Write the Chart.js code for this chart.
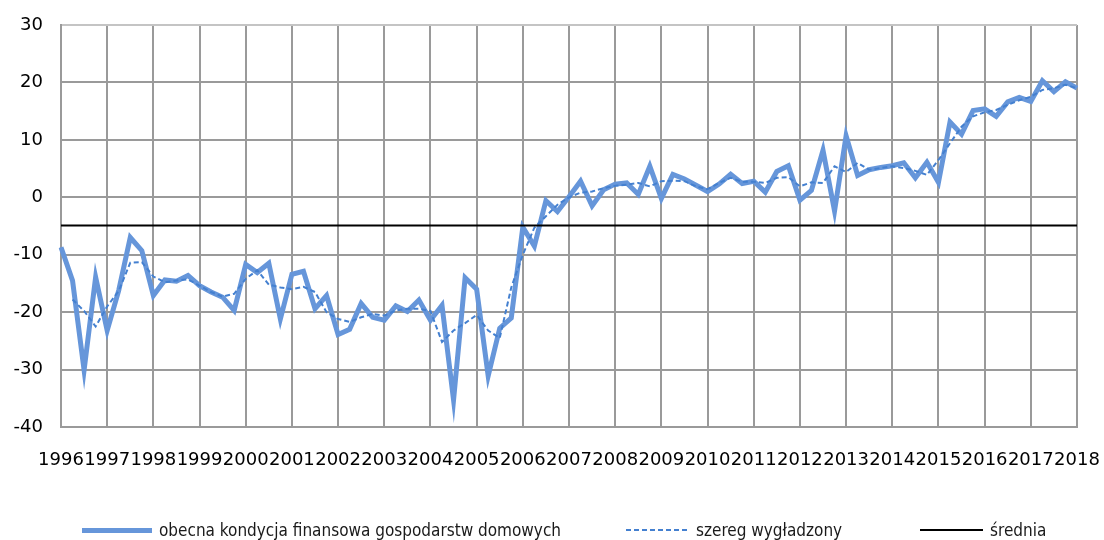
<!DOCTYPE html>
<html lang="pl">
<head>
<meta charset="utf-8">
<title>Obecna kondycja finansowa gospodarstw domowych</title>
<script src="https://cdn.jsdelivr.net/npm/chart.js@4.4.1/dist/chart.umd.min.js"></script>
<style>
    html, body { margin: 0; padding: 0; background: #fff; }
    #wrap { position: relative; width: 1104px; height: 540px; overflow: hidden; }
    #chart { position: absolute; left: 0; top: 0; }
    #legend {
        position: absolute; left: 0; top: 519px; width: 1104px; height: 22px;
        font-family: "DejaVu Sans Condensed", "DejaVu Sans", sans-serif;
        font-size: 17px; color: #1a1a1a;
    }
    .lg-item { position: absolute; top: 0; height: 22px; display: flex; align-items: center; white-space: nowrap; }
    .lg-line { display: inline-block; margin-right: 7px; }
</style>
</head>
<body>
<div id="wrap">
    <canvas id="chart" width="1104" height="540"></canvas>
    <div id="legend"></div>
</div>
<script>
// lata i kwartały (1996 I - 2018 I)
const years = [1996, 1997, 1998, 1999, 2000, 2001, 2002, 2003, 2004, 2005, 2006,
               2007, 2008, 2009, 2010, 2011, 2012, 2013, 2014, 2015, 2016, 2017, 2018];
const quarters = ['I', 'II', 'III', 'IV'];

// obecna kondycja finansowa gospodarstw domowych
const condition = [
    -8.7, -14.5, -30.1, -13.9, -23.2, -16.2, -7.0, -9.3,
    -17.1, -14.4, -14.6, -13.6, -15.4, -16.5, -17.4, -19.7,
    -11.7, -13.1, -11.5, -21.2, -13.4, -12.9, -19.4, -17.1,
    -23.9, -23.0, -18.5, -20.9, -21.4, -18.9, -19.9, -17.9,
    -21.4, -18.8, -35.3, -14.0, -16.0, -31.1, -22.8, -21.0,
    -5.2, -8.5, -0.6, -2.5, 0.1, 2.8, -1.5, 1.3,
    2.3, 2.5, 0.5, 5.4, -0.2, 4.0, 3.2, 2.1,
    1.0, 2.3, 4.0, 2.4, 2.8, 0.9, 4.5, 5.5,
    -0.5, 1.2, 8.2, -2.4, 10.7, 3.8, 4.8, 5.2,
    5.5, 6.0, 3.4, 6.1, 2.6, 13.1, 11.0, 15.1,
    15.4, 14.1, 16.6, 17.4, 16.7, 20.3, 18.4, 20.1,
    19.0
];

// szereg wygładzony
const smoothed = [
    null, -17.8, -19.8, -22.5, -19.0, -16.3, -11.4, -11.3,
    -13.8, -14.8, -14.5, -14.3, -15.4, -16.5, -17.3, -16.8,
    -14.2, -12.7, -15.2, -15.7, -16.0, -15.6, -16.5, -20.0,
    -21.2, -21.7, -20.9, -20.3, -20.6, -19.7, -19.4, -19.4,
    -19.8, -25.2, -23.2, -21.9, -20.5, -23.2, -24.5, -15.7,
    -10.0, -5.3, -3.3, -1.3, 0.0, 0.8, 1.0, 1.6,
    2.0, 2.2, 2.5, 1.9, 2.8, 2.9, 2.8, 1.9,
    1.4, 2.5, 3.4, 2.7, 2.7, 2.5, 3.4, 3.5,
    1.9, 2.6, 2.5, 5.4, 4.4, 6.0, 4.8, 5.1,
    5.4, 5.1, 4.6, 3.9, 6.5, 9.4, 12.3, 14.1,
    14.8, 15.2, 16.1, 16.9, 17.5, 18.7, 19.0, 19.6,
    19.0
];

// średnia całego okresu
const meanLevel = -4.9;

const yTicks = [-40, -30, -20, -10, 0, 10, 20, 30];

const labels = [];
years.forEach(y => quarters.forEach(q => labels.push(y + ' ' + q)));
labels.length = condition.length;

const GRID = '#9a9a9a';

Chart.defaults.font.family = '"DejaVu Sans", Verdana, sans-serif';
Chart.defaults.font.size = 18;
Chart.defaults.color = '#111';

const chart = new Chart(document.getElementById('chart'), {
    type: 'line',
    data: {
        labels: labels,
        datasets: [{
            label: 'obecna kondycja finansowa gospodarstw domowych',
            data: condition,
            borderColor: 'rgb(102, 150, 218)',
            borderWidth: 5,
            pointRadius: 0,
            tension: 0,
            order: 3
        }, {
            label: 'szereg wygładzony',
            data: smoothed,
            borderColor: 'rgb(68, 128, 208)',
            borderWidth: 2,
            borderDash: [5, 3],
            pointRadius: 0,
            tension: 0,
            order: 2
        }, {
            label: 'średnia',
            data: labels.map(() => meanLevel),
            borderColor: '#000',
            borderWidth: 2,
            pointRadius: 0,
            order: 1
        }]
    },
    options: {
        responsive: false,
        animation: false,
        devicePixelRatio: 1,
        layout: { padding: { left: 13, right: 27, top: 25, bottom: 74 } },
        plugins: {
            legend: { display: false },
            tooltip: { enabled: false }
        },
        scales: {
            x: {
                type: 'category',
                offset: false,
                border: { color: GRID, width: 2 },
                grid: {
                    drawTicks: true,
                    tickLength: 21,
                    tickColor: 'rgba(0,0,0,0)',
                    lineWidth: 2,
                    color: ctx => ctx.index % 4 === 0 ? GRID : 'rgba(0,0,0,0)'
                },
                ticks: {
                    autoSkip: false,
                    maxRotation: 0,
                    padding: 2,
                    color: '#000',
                    callback: (value, index) => index % 4 === 0 ? labels[index].split(' ')[0] : ''
                },
                afterFit: axis => { axis.height = 39; }
            },
            y: {
                min: yTicks[0],
                max: yTicks[yTicks.length - 1],
                afterBuildTicks: axis => { axis.ticks = yTicks.map(v => ({ value: v })); },
                border: { color: GRID, width: 2 },
                grid: {
                    drawTicks: true,
                    tickLength: 15,
                    tickColor: 'rgba(0,0,0,0)',
                    lineWidth: 2,
                    color: ctx => ctx.tick && ctx.tick.value === 30 ? '#c4c4c4' : GRID
                },
                ticks: { padding: 3, color: '#000' },
                afterFit: axis => { axis.width = 48; }
            }
        }
    }
});

// legenda pod wykresem
const legendLeft = [82, 626, 920];
const swatchWidth = [70, 63, 63];
const legendEl = document.getElementById('legend');
chart.data.datasets.forEach((ds, i) => {
    const item = document.createElement('div');
    item.className = 'lg-item';
    item.style.left = legendLeft[i] + 'px';
    const line = document.createElement('span');
    line.className = 'lg-line';
    line.style.width = swatchWidth[i] + 'px';
    line.style.height = ds.borderWidth + 'px';
    if (ds.borderDash) {
        const [d, g] = ds.borderDash;
        line.style.background = `repeating-linear-gradient(90deg, ${ds.borderColor} 0 ${d}px, transparent ${d}px ${d + g}px)`;
    } else {
        line.style.background = ds.borderColor;
    }
    const text = document.createElement('span');
    text.textContent = ds.label;
    item.appendChild(line);
    item.appendChild(text);
    legendEl.appendChild(item);
});
</script>
</body>
</html>
